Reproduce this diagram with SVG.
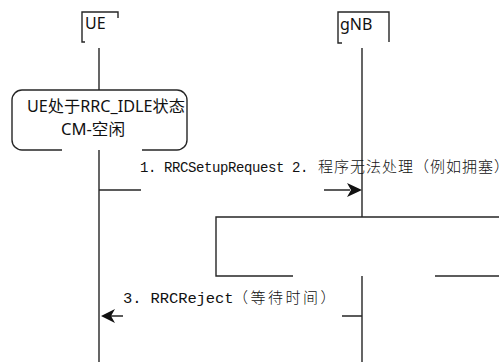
<svg xmlns="http://www.w3.org/2000/svg" width="499" height="362" viewBox="0 0 499 362">
<defs>
<style>
.ln{fill:none;stroke:#262626;stroke-width:1.4}
.hd{font-family:"Noto Sans","Open Sans","Noto Sans CJK SC",sans-serif;font-size:16px;fill:#111}
.lt{font-family:"Liberation Mono","Noto Sans CJK SC",monospace;fill:#111}
.cj{font-family:"Noto Sans CJK SC",sans-serif;font-weight:300;fill:#111}
.ah{fill:#111;stroke:none}
</style>
</defs>
<rect width="499" height="362" fill="#fff"/>
<g id="UE">
<path class="ln" d="M85,42 H82 V12 H118 V18"/>
<text class="hd" x="85" y="29" font-size="17">UE</text>
</g>
<g id="gNB">
<path class="ln" d="M342,43 H338 V12 H389 V42"/>
<text class="hd" x="340" y="30" font-size="17">gNB</text>
</g>
<g id="state">
<path class="ln" d="M62,150 H22 A10,10 0 0 1 12,140 V100 A10,10 0 0 1 22,90 H177 A10,10 0 0 1 187,100 V140 A10,10 0 0 1 177,150 H142"/>
<text class="hd" x="27" y="112" textLength="158" lengthAdjust="spacingAndGlyphs">UE处于RRC_IDLE状态</text>
<text class="hd" x="61" y="135" textLength="64" lengthAdjust="spacingAndGlyphs">CM-空闲</text>
</g>
<g id="procbox">
<path class="ln" d="M293,276 H216 V217 H500"/>
<path class="ln" d="M435,276 H500"/>
</g>
<g id="connectors">
<path class="ln" d="M99,48 V90 M99,150 V362"/>
<path class="ln" d="M362,48 V217 M362,276 V362"/>
<path class="ln" d="M99,190 H141 M324,190 H350"/>
<polygon class="ah" points="362,190 347,183 351,190 347,197"/>
<text y="172"><tspan class="lt" x="140" font-size="14" letter-spacing="-0.4">1. RRCSetupRequest 2. </tspan><tspan class="cj" x="318" font-size="15" letter-spacing="1">程序无法处理（例如拥塞）</tspan></text>
<path class="ln" d="M111,316 H123 M342,316 H362"/>
<polygon class="ah" points="101,316 115,309 111,316 115,323"/>
<text y="303"><tspan class="lt" x="123" font-size="15.5" letter-spacing="-0.1">3. RRCReject</tspan><tspan class="cj" x="233" font-size="15" letter-spacing="2.5">（等待时间）</tspan></text>
</g>
</svg>
